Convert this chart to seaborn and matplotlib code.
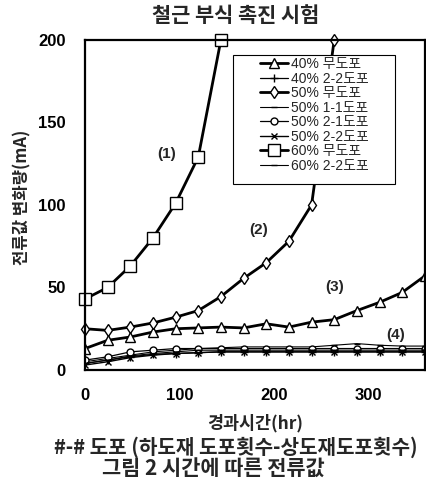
import numpy as np
import pandas as pd
import matplotlib
matplotlib.use("Agg")
import matplotlib.pyplot as plt
from matplotlib.patches import Rectangle
import seaborn as sns

# elapsed time (hr)
hours = [0, 24, 48, 72, 96, 120, 144, 168, 192, 216, 240, 264, 288, 312, 336, 360]

# current change (mA)
c40_none = [13, 18, 20, 23, 25, 25.5, 26, 25.5, 28, 26, 29, 30.5, 36, 41, 47, 57]
c40_22 = [4, 6, 8, 9.5, 10, 10.5, 11, 11, 11, 11, 11, 11, 11, 11, 11, 11]
c50_none = [25, 24, 26, 28.5, 32, 36, 44.5, 55.5, 65, 78, 100, 200]
c50_11 = [5, 7, 9, 11, 12, 13, 13.5, 14, 14, 14, 14, 15, 16, 15, 14.5, 14.5]
c50_21 = [6, 8, 11, 12, 13, 13, 13, 13, 13, 13, 13, 13, 13, 13, 13, 13]
c50_22 = [3, 5, 7.5, 9, 10, 10.5, 11, 11, 11, 11, 11, 11, 11, 11, 11, 11]
c60_none = [43, 50, 63, 80, 101, 129, 200]
c60_22 = [4, 6, 8.5, 10, 11, 12, 12, 12, 12, 12, 12, 12, 12, 12, 12, 12]

labels = ["40% 무도포", "40% 2-2도포", "50% 무도포", "50% 1-1도포",
          "50% 2-1도포", "50% 2-2도포", "60% 무도포", "60% 2-2도포"]
series = [c40_none, c40_22, c50_none, c50_11, c50_21, c50_22, c60_none, c60_22]

# (marker, markersize, linewidth, clip)
styles = [("^", 7, 2.0, True), ("+", 6, 0.9, True), ("d", 6, 2.0, False),
          ("_", 4, 0.8, True), ("o", 5, 0.9, True), ("x", 4, 1.0, True),
          ("s", 8, 2.0, False), ("_", 4, 0.8, True)]

notes = ["(1)", "(2)", "(3)", "(4)"]
note_x = [87, 184, 264, 329]
note_y = [131, 85, 50, 21]

sns.set_style("white")
plt.rcParams['font.family'] = ['Noto Sans CJK KR', 'DejaVu Sans']
latin_kr = ['Liberation Sans', 'Noto Sans CJK KR']

fig = plt.figure(figsize=(4.27, 4.98), dpi=100)
ax = fig.add_axes([0.199, 0.257, 0.796, 0.663])

for lab, vals, (mk, ms, lw, clip) in zip(labels, series, styles):
    df = pd.DataFrame({"hr": hours[:len(vals)], "mA": vals})
    sns.lineplot(data=df, x="hr", y="mA", ax=ax, color="black", linewidth=lw,
                 marker=mk, markersize=ms, markerfacecolor="white",
                 markeredgecolor="black", markeredgewidth=1.0,
                 label=lab, sort=False, estimator=None, clip_on=clip)

for t, x, y in zip(notes, note_x, note_y):
    ax.text(x, y, t, fontsize=11, fontweight="bold", family="Liberation Sans",
            ha="center", va="center")

ax.set_xlim(0, 360)
ax.set_ylim(0, 200)
ax.set_xticks([0, 100, 200, 300])
ax.set_yticks([0, 50, 100, 150, 200])
ax.set_xlabel("")
ax.set_ylabel("")
ax.tick_params(direction="in", length=5, width=1, colors="black")
ax.tick_params(axis="y", pad=14)
ax.tick_params(axis="x", pad=13)
for lbl in ax.get_xticklabels() + ax.get_yticklabels():
    lbl.set_fontfamily("Liberation Sans")
    lbl.set_fontweight("bold")
    lbl.set_fontsize(12)
for sp in ax.spines.values():
    sp.set_color("black")
    sp.set_linewidth(1.6)

# legend box is wider than its contents in the original
ax.add_patch(Rectangle((0.435, 0.564), 0.477, 0.391, transform=ax.transAxes,
                       facecolor="white", edgecolor="black", linewidth=0.8,
                       zorder=4))
leg = ax.legend(loc="upper left", bbox_to_anchor=(0.515, 0.948),
                prop={"family": latin_kr, "size": 10}, frameon=False,
                handlelength=2.0, handletextpad=0.2, labelspacing=0.04,
                borderpad=0, borderaxespad=0)
leg.set_zorder(5)

fig.text(236 / 427, 1 - 15 / 498, "철근 부식 촉진 시험", fontsize=15,
         fontweight="bold", ha="center", va="center")
fig.text(22 / 427, 1 - 197 / 498, "전류값 변화량(mA)", fontsize=12,
         fontweight="bold", rotation=90, ha="center", va="center")
fig.text(255 / 427, 1 - 423 / 498, "경과시간(hr)", fontsize=12.5,
         fontweight="bold", ha="center", va="center")
fig.text(236 / 427, 1 - 447 / 498, "#-# 도포 (하도재 도포횟수-상도재도포횟수)",
         fontsize=14.5, fontweight="bold", ha="center", va="center")
fig.text(213 / 427, 1 - 468 / 498, "그림 2 시간에 따른 전류값", fontsize=15,
         fontweight="bold", ha="center", va="center")

fig.savefig("out.png", dpi=100)
